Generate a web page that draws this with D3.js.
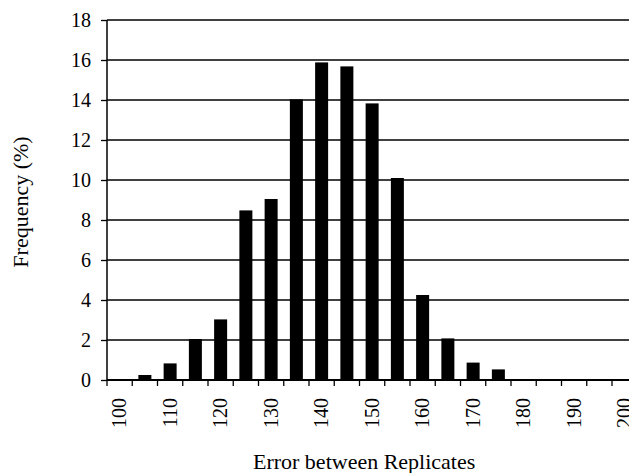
<!DOCTYPE html>
<html><head><meta charset="utf-8">
<script src="https://cdn.jsdelivr.net/npm/d3@7"></script>
<style>body{margin:0;background:#fff}svg{display:block}
svg text{font-family:"Liberation Serif","Times New Roman",Times,serif;}</style>
</head><body>
<svg id="c" width="629" height="473"></svg>
<script>
const categories = [100,105,110,115,120,125,130,135,140,145,150,155,160,165,170,175,180,185,190,195,200];
const frequency = [0,0.25,0.83,2.05,3.03,8.48,9.05,14.03,15.88,15.68,13.83,10.1,4.25,2.08,0.87,0.53,0,0,0,0,0];
const yTicks = [0,2,4,6,8,10,12,14,16,18];
const xTickLabels = [100,110,120,130,140,150,160,170,180,190,200];

(function(){
const svg = d3.select("#c");
const mLeft = 107, mTop = 20, mBottom = 380;
const bw = 25.25;
const mRight = mLeft + bw*categories.length;
const xb = d3.scaleBand().domain(categories).range([mLeft, mRight]);
const y = d3.scaleLinear().domain([0,18]).range([mBottom, mTop]);

// gridlines
svg.append("g").selectAll("line").data(yTicks.filter(d=>d>0)).join("line")
  .attr("x1", mLeft).attr("x2", mRight).attr("y1", d=>y(d)).attr("y2", d=>y(d))
  .attr("stroke","#000").attr("stroke-width",1.3);

// bars
svg.append("g").selectAll("rect").data(categories).join("rect")
  .attr("x", (d)=>xb(d) + (bw-13)/2).attr("width", 13)
  .attr("y", (d,i)=>y(frequency[i])).attr("height",(d,i)=>mBottom - y(frequency[i]))
  .attr("fill","#000");

// y axis
const yAxis = d3.axisLeft(y).tickValues(yTicks).tickSize(6).tickPadding(10);
const gy = svg.append("g").attr("transform",`translate(${mLeft},0)`).call(yAxis);
gy.attr("font-family",null).attr("font-size",null);
gy.select(".domain").attr("stroke-width",1.5).attr("d",`M0,${mTop}V${mBottom}`);
gy.selectAll(".tick line").attr("stroke-width",1.3);
gy.selectAll("text").style("font-size","20px").attr("fill","#000");

// x axis with boundary ticks
const gx = svg.append("g").attr("transform",`translate(0,${mBottom})`);
gx.append("line").attr("x1",mLeft).attr("x2",mRight).attr("y1",0).attr("y2",0).attr("stroke","#000").attr("stroke-width",2);
gx.selectAll("line.t").data(categories).join("line").attr("class","t")
  .attr("x1",d=>xb(d)).attr("x2",d=>xb(d)).attr("y1",0).attr("y2",6)
  .attr("stroke","#000").attr("stroke-width",1.3);
gx.selectAll("text").data(xTickLabels).join("text")
  .attr("transform", d=>`translate(${xb(d)+bw/2+6.5},18) rotate(-90)`)
  .attr("text-anchor","end")
  .style("font-size","20px").attr("fill","#000")
  .text(d=>d);

// titles
svg.append("text").attr("x",(mLeft+mRight)/2 - 8).attr("y",469).attr("text-anchor","middle")
  .style("font-size","22px").attr("fill","#000").text("Error between Replicates");
svg.append("text").attr("transform","translate(28,202) rotate(-90)").attr("text-anchor","middle")
  .style("font-size","22px").attr("fill","#000").text("Frequency (%)");
})();
</script>
</body></html>
